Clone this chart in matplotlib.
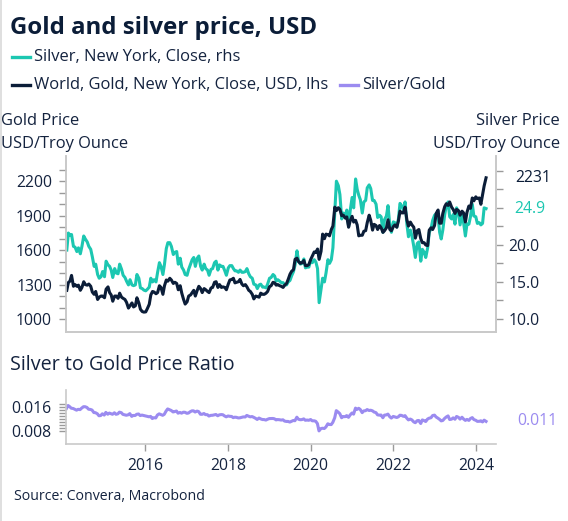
import matplotlib
matplotlib.use('Agg')
import matplotlib.pyplot as plt
import matplotlib.dates as mdates
from matplotlib.lines import Line2D
from matplotlib.ticker import FixedLocator
import numpy as np
import pandas as pd
import datetime as dt

# semi-monthly observations (1st and 15th), Feb 2014 .. Apr 2024
dates = pd.date_range('2014-02-01', '2024-04-01', freq='SMS')

gold = [
    # 2014 Feb-Dec
    1250, 1318, 1330, 1380, 1285, 1300, 1285, 1295, 1250, 1275, 1325, 1300,
    1295, 1305, 1285, 1235, 1215, 1240, 1170, 1190, 1200, 1200,
    # 2015
    1185, 1260, 1280, 1230, 1210, 1155, 1200, 1200, 1180, 1225, 1190, 1180,
    1170, 1145, 1095, 1115, 1140, 1105, 1115, 1185, 1140, 1085, 1065, 1060,
    # 2016
    1062, 1090, 1128, 1210, 1240, 1235, 1220, 1230, 1290, 1275, 1215, 1290,
    1340, 1330, 1355, 1340, 1310, 1320, 1310, 1255, 1290, 1225, 1170, 1130,
    # 2017
    1150, 1200, 1210, 1230, 1250, 1200, 1250, 1285, 1265, 1230, 1265, 1255,
    1240, 1230, 1270, 1275, 1320, 1325, 1275, 1300, 1275, 1280, 1275, 1255,
    # 2018
    1305, 1340, 1345, 1355, 1315, 1320, 1325, 1345, 1305, 1290, 1300, 1280,
    1250, 1240, 1215, 1175, 1200, 1195, 1190, 1225, 1215, 1215, 1225, 1240,
    # 2019
    1282, 1290, 1320, 1315, 1295, 1300, 1290, 1285, 1275, 1295, 1310, 1345,
    1390, 1415, 1430, 1520, 1530, 1500, 1485, 1490, 1510, 1465, 1465, 1475,
    # 2020
    1520, 1550, 1585, 1580, 1610, 1520, 1590, 1740, 1700, 1740, 1735, 1725,
    1780, 1810, 1975, 1945, 1970, 1955, 1900, 1905, 1880, 1890, 1800, 1855,
    # 2021
    1895, 1845, 1860, 1820, 1725, 1730, 1730, 1765, 1770, 1840, 1905, 1860,
    1775, 1825, 1815, 1780, 1815, 1795, 1755, 1770, 1795, 1865, 1780, 1770,
    # 2022
    1805, 1820, 1800, 1855, 1940, 1925, 1925, 1975, 1865, 1810, 1845, 1820,
    1800, 1705, 1770, 1780, 1700, 1665, 1665, 1645, 1640, 1775, 1795, 1780,
    # 2023
    1815, 1920, 1950, 1835, 1835, 1920, 1980, 2005, 1990, 2020, 1975, 1955,
    1920, 1955, 1945, 1905, 1940, 1925, 1845, 1930, 1985, 1965, 2055, 2030,
    # 2024 Jan-Apr 1
    2065, 2050, 2055, 2000, 2085, 2160, 2231,
]

silver = [
    # 2014 Feb-Dec
    19.3, 21.6, 21.3, 21.4, 19.8, 19.7, 19.1, 19.6, 18.8, 19.8, 21.2, 20.8,
    20.4, 19.8, 19.4, 18.4, 17.1, 17.4, 16.0, 15.5, 15.7, 16.4,
    # 2015
    15.7, 17.8, 17.3, 17.1, 16.6, 15.6, 16.8, 16.2, 16.1, 17.4, 16.7, 15.9,
    15.6, 15.1, 14.6, 15.3, 14.6, 14.5, 14.6, 16.0, 15.5, 14.2, 14.1, 13.9,
    # 2016
    13.8, 14.0, 14.3, 15.5, 15.0, 15.3, 15.0, 16.3, 17.6, 17.1, 16.0, 17.4,
    19.5, 20.3, 20.3, 19.8, 18.7, 19.0, 19.1, 17.4, 18.2, 17.0, 16.6, 16.0,
    # 2017
    15.9, 16.7, 17.4, 18.0, 18.3, 17.1, 18.2, 18.5, 17.1, 16.6, 17.4, 16.8,
    16.6, 15.9, 16.7, 16.8, 17.6, 17.8, 16.6, 17.3, 17.1, 17.1, 16.5, 15.9,
    # 2018
    16.9, 17.2, 17.2, 16.8, 16.5, 16.5, 16.3, 16.6, 16.3, 16.3, 16.4, 16.8,
    16.1, 15.7, 15.5, 14.7, 14.6, 14.1, 14.6, 14.7, 14.3, 14.3, 14.2, 14.7,
    # 2019
    15.5, 15.6, 16.0, 15.8, 15.1, 15.3, 15.1, 14.9, 14.9, 14.6, 14.6, 15.0,
    15.2, 15.8, 16.4, 17.3, 19.2, 17.8, 17.4, 17.5, 18.1, 16.9, 17.0, 17.0,
    # 2020
    17.9, 17.6, 18.0, 17.7, 16.8, 12.2, 14.0, 15.5, 15.0, 16.2, 18.0, 17.5,
    18.0, 19.6, 24.4, 28.6, 28.0, 26.8, 23.5, 24.3, 23.9, 24.7, 22.5, 24.6,
    # 2021
    26.4, 25.0, 28.9, 27.5, 26.7, 26.1, 24.3, 25.8, 26.0, 27.7, 28.1, 27.6,
    26.0, 26.0, 25.5, 23.7, 24.0, 23.8, 21.7, 23.4, 23.9, 25.3, 22.6, 21.7,
    # 2022
    23.1, 23.0, 22.4, 23.5, 25.6, 25.3, 24.7, 25.8, 22.8, 21.1, 22.0, 21.2,
    19.8, 18.3, 20.2, 20.4, 17.8, 19.4, 19.0, 18.3, 19.6, 21.7, 22.2, 23.3,
    # 2023
    24.0, 24.2, 23.8, 21.7, 20.8, 22.0, 24.1, 25.3, 25.8, 23.8, 23.5, 24.1,
    22.8, 25.0, 24.3, 22.7, 24.3, 23.0, 21.2, 22.8, 22.8, 23.8, 25.5, 23.9,
    # 2024 Jan-Apr 1
    23.8, 22.9, 23.0, 22.7, 22.9, 25.0, 24.9,
]

gold = np.array(gold, dtype=float)
silver = np.array(silver, dtype=float)
ratio = silver / gold

gold_ticks = [1000, 1300, 1600, 1900, 2200]
silver_ticks = [10.0, 15.0, 20.0]
ratio_ticks = [0.008, 0.016]
year_ticks = [2016, 2018, 2020, 2022, 2024]

TEAL = '#1cc7b1'
NAVY = '#0b1d38'
PURPLE = '#9b8bf0'
TXT = '#14233f'
SPINE = '#c9c9c9'
TICK = '#9a9a9a'
TICK_FS = 11.3
LAB_FS = 11.9

plt.rcParams['font.family'] = ['Open Sans', 'DejaVu Sans']

W, H = 568, 521
fig = plt.figure(figsize=(W / 100, H / 100), dpi=100)


def fx(x):
    return x / W


def fy(y):
    return 1 - y / H


xlim = (dt.datetime(2014, 1, 25), dt.datetime(2024, 6, 28))

# ---- top panel: gold (lhs) and silver (rhs)
ax = fig.add_axes([fx(66), fy(332.3), (496 - 66) / W, (332.3 - 156) / H])
ax2 = ax.twinx()
ax.set_zorder(ax2.get_zorder() + 1)
ax.patch.set_visible(False)

ax2.plot(dates, silver, color=TEAL, lw=2.2, solid_joinstyle='round')
ax.plot(dates, gold, color=NAVY, lw=2.2, solid_joinstyle='round')

ax.set_xlim(xlim)
ax.set_ylim(884, 2421)
ax2.set_ylim(8.2, 32.0)

ax.yaxis.set_major_locator(FixedLocator(gold_ticks))
ax.yaxis.set_minor_locator(FixedLocator(list(range(1000, 2301, 100))))
ax.set_yticklabels([str(v) for v in gold_ticks])
ax2.yaxis.set_major_locator(FixedLocator(silver_ticks))
ax2.yaxis.set_minor_locator(FixedLocator(list(np.arange(10, 30.1, 2.5))))
ax2.set_yticklabels([f'{v:.1f}' for v in silver_ticks])
ax.set_xticks([])
ax2.set_xticks([])

for a in (ax, ax2):
    a.spines['top'].set_visible(False)
    for s in ('left', 'right', 'bottom'):
        a.spines[s].set_color(SPINE)
        a.spines[s].set_linewidth(1.2)
    a.tick_params(axis='y', which='both', length=5, width=1.0, color=TICK,
                  labelsize=TICK_FS, labelcolor=TXT)
ax.tick_params(axis='y', pad=5)
ax2.tick_params(axis='y', pad=4)

ax.annotate(f'{gold[-1]:.0f}', xy=(1, gold[-1]), xycoords=('axes fraction', 'data'),
            xytext=(13.5, 0), textcoords='offset points', va='center', ha='left',
            color=NAVY, fontsize=TICK_FS)
ax2.annotate(f'{silver[-1]:.1f}', xy=(1, silver[-1]), xycoords=('axes fraction', 'data'),
             xytext=(13.5, 0), textcoords='offset points', va='center', ha='left',
             color=TEAL, fontsize=TICK_FS)

# ---- bottom panel: ratio
axr = fig.add_axes([fx(65.7), fy(444), (496 - 65.7) / W, (444 - 390) / H])
axr.plot(dates, ratio, color=PURPLE, lw=2.2, solid_joinstyle='round')
axr.set_xlim(xlim)
axr.set_ylim(0.00372, 0.0215)
axr.yaxis.set_major_locator(FixedLocator(ratio_ticks))
axr.yaxis.set_minor_locator(FixedLocator(list(np.arange(0.008, 0.01705, 0.001))))
axr.set_yticklabels([f'{v:.3f}' for v in ratio_ticks])
axr.xaxis.set_major_locator(FixedLocator([mdates.date2num(dt.datetime(y, 1, 1)) for y in year_ticks]))
axr.set_xticklabels([str(y) for y in year_ticks])
for s in ('top', 'right'):
    axr.spines[s].set_visible(False)
for s in ('left', 'bottom'):
    axr.spines[s].set_color(SPINE)
    axr.spines[s].set_linewidth(1.2)
axr.tick_params(axis='both', which='both', length=5, width=1.0, color=TICK,
                labelsize=TICK_FS, labelcolor=TXT)
axr.tick_params(axis='y', pad=5)
axr.tick_params(axis='x', pad=5)
axr.annotate(f'{ratio[-1]:.3f}', xy=(1, ratio[-1]), xycoords=('axes fraction', 'data'),
             xytext=(15, 0), textcoords='offset points', va='center', ha='left',
             color=PURPLE, fontsize=TICK_FS)

# ---- texts
fig.text(fx(10), fy(27.5), 'Gold and silver price, USD', fontsize=17.3, fontweight='bold',
         color=NAVY, va='center', ha='left')

legend_rows = [
    (56.7, [(TEAL, 'Silver, New York, Close, rhs', 12)]),
    (85.0, [(NAVY, 'World, Gold, New York, Close, USD, lhs', 12),
            (PURPLE, 'Silver/Gold', 340)]),
]
for y, entries in legend_rows:
    for col, label, x0 in entries:
        fig.add_artist(Line2D([fx(x0), fx(x0 + 18)], [fy(y), fy(y)], color=col, lw=2.4,
                              transform=fig.transFigure))
        fig.text(fx(x0 + 22), fy(y), label, fontsize=LAB_FS, color=TXT, va='center', ha='left')

fig.text(fx(1), fy(121), 'Gold Price', fontsize=LAB_FS, color=TXT, va='center', ha='left')
fig.text(fx(1), fy(144), 'USD/Troy Ounce', fontsize=LAB_FS, color=TXT, va='center', ha='left')
fig.text(fx(560), fy(121), 'Silver Price', fontsize=LAB_FS, color=TXT, va='center', ha='right')
fig.text(fx(560), fy(144), 'USD/Troy Ounce', fontsize=LAB_FS, color=TXT, va='center', ha='right')

fig.text(fx(10), fy(365), 'Silver to Gold Price Ratio', fontsize=14.2, color=TXT,
         va='center', ha='left')
fig.text(fx(14), fy(496), 'Source: Convera, Macrobond', fontsize=10.2, color=TXT,
         va='center', ha='left')

fig.add_artist(Line2D([fx(0.8), fx(0.8)], [0, 1], color='#d9d9d9', lw=1.2,
                      transform=fig.transFigure))

fig.savefig('out.png', dpi=100)
